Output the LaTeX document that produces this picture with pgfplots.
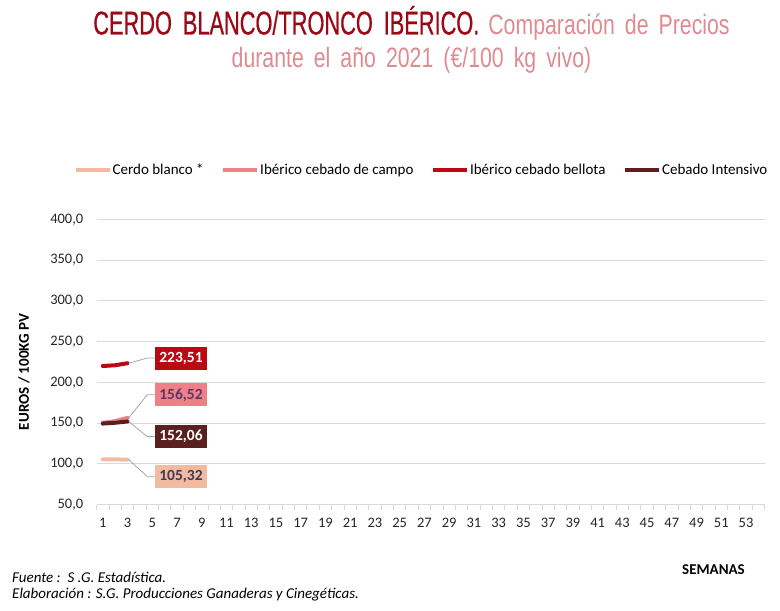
\documentclass[border=0pt]{standalone}
\usepackage{pgfplots}
\pgfplotsset{compat=1.18}
\usepackage{fontspec}
\setmainfont{Carlito}
\newfontfamily\titlefont[FakeStretch=0.66, WordSpace=1.8, FakeBold=0.6]{Liberation Sans}
\newfontfamily\subfont[FakeStretch=0.76, WordSpace=1.7]{Liberation Sans}
\definecolor{cblanco}{RGB}{242,186,160}
\definecolor{ccampo}{RGB}{240,128,135}
\definecolor{cbellota}{RGB}{185,10,20}
\definecolor{cinten}{RGB}{90,32,32}
\definecolor{gridc}{RGB}{217,217,217}
\definecolor{titc}{RGB}{155,8,22}
\definecolor{subc}{RGB}{224,138,146}
\definecolor{leader}{RGB}{166,166,166}
\definecolor{lblA}{RGB}{90,58,100}
\definecolor{lblB}{RGB}{62,60,92}
\begin{document}
\begin{tikzpicture}
\useasboundingbox (-96.6pt,-106.3pt) rectangle (683.4pt,504.7pt);
\begin{axis}[
  scale only axis, width=668pt, height=285.4pt,
  xmin=0.5, xmax=54.5, ymin=50, ymax=400,
  clip=false,
  axis lines*=left,
  x axis line style={-, draw=gridc, line width=1pt},
  y axis line style={draw=none},
  xtick={1,3,...,53},
  minor xtick={0.5,1.5,...,54.5},
  ytick={50,100,...,400},
  major tick length=0pt,
  minor tick length=5pt,
  tick align=outside,
  minor tick style={draw=gridc, line width=0.8pt},
  ymajorgrids,
  major grid style={draw=gridc, line width=1pt},
  tick label style={font=\fontsize{14.5}{17}\selectfont, text=black!85},
  x tick label style={yshift=-10pt, /pgf/number format/assume math mode=true},
  y tick label style={xshift=-9.8pt, /pgf/number format/.cd, fixed, fixed zerofill, precision=1, use comma, assume math mode=true},
  ylabel={EUROS / 100KG PV},
  ylabel style={font=\bfseries\fontsize{15}{18}\selectfont, at={(axis description cs:-0.1087,0.465)}, anchor=center},
  xlabel={SEMANAS},
  xlabel style={font=\bfseries\fontsize{15}{18}\selectfont, at={(axis description cs:0.9235,-0.2288)}, anchor=center},
  legend style={at={(axis description cs:-0.0346,1.1728)}, anchor=west, draw=none, fill=none,
    inner sep=0pt, font=\fontsize{15}{18}\selectfont,
    nodes={inner sep=1pt},
    /tikz/every even column/.append style={column sep=16.5pt}},
  legend columns=4,
  legend image code/.code={\draw[#1, line width=4pt, line cap=butt] (0pt,0pt) -- (34pt,0pt);},
  every axis plot/.append style={line width=4pt, line cap=round, line join=round},
]
\addplot[cblanco] coordinates {(1,105.6) (2,105.5) (3,105.32)};
\addlegendentry{Cerdo blanco *}
\addplot[ccampo] coordinates {(1,150.5) (2,152.5) (3,156.52)};
\addlegendentry{Ibérico cebado de campo}
\addplot[cbellota] coordinates {(1,220.1) (2,221.0) (3,223.51)};
\addlegendentry{Ibérico cebado bellota}
\addplot[cinten] coordinates {(1,149.5) (2,150.5) (3,152.06)};
\addlegendentry{Cebado Intensivo}

\draw[leader, line width=0.8pt] (axis cs:3.1,223.51) -- (axis cs:4.6,229.9) -- (axis cs:5.22,229.9);
\draw[leader, line width=0.8pt] (axis cs:3.1,156.52) -- (axis cs:4.6,184.8) -- (axis cs:5.22,184.8);
\draw[leader, line width=0.8pt] (axis cs:3.1,152.06) -- (axis cs:4.6,133.5) -- (axis cs:5.22,133.5);
\draw[leader, line width=0.8pt] (axis cs:3.1,105.32) -- (axis cs:4.6,84.4) -- (axis cs:5.22,84.4);

\node[fill=cbellota, text=white, font=\bfseries\fontsize{15.5}{18}\selectfont, minimum width=52pt, minimum height=23pt, inner sep=0pt] at (axis cs:7.32,229.9) {223,51};
\node[fill=ccampo, text=lblA, font=\bfseries\fontsize{15.5}{18}\selectfont, minimum width=52pt, minimum height=23pt, inner sep=0pt] at (axis cs:7.32,184.8) {156,52};
\node[fill=cinten, text=white, font=\bfseries\fontsize{15.5}{18}\selectfont, minimum width=52pt, minimum height=23pt, inner sep=0pt] at (axis cs:7.32,133.5) {152,06};
\node[fill=cblanco, text=lblB, font=\bfseries\fontsize{15.5}{18}\selectfont, minimum width=52pt, minimum height=23pt, inner sep=0pt] at (axis cs:7.32,84.4) {105,32};
\end{axis}
\node[anchor=base, inner sep=0pt] at (314.9pt,470.2pt) {{\titlefont\fontsize{33}{36}\selectfont\color{titc}CERDO BLANCO/TRONCO IBÉRICO.}\hspace{9pt}{\subfont\fontsize{28}{32}\selectfont\color{subc}Comparación de Precios}};
\node[anchor=base, inner sep=0pt] at (314.9pt,436.7pt) {\subfont\fontsize{28}{32}\selectfont\color{subc}durante el año 2021 (€/100 kg vivo)};
\node[anchor=west, inner sep=0pt, font=\itshape\fontsize{15}{18}\selectfont] at (-84.6pt,-72.3pt) {Fuente :\ \ S .G. Estadística.};
\node[anchor=west, inner sep=0pt, font=\itshape\fontsize{15}{18}\selectfont] at (-84.6pt,-90.3pt) {Elaboración : S.G. Producciones Ganaderas y Cinegéticas.};
\end{tikzpicture}
\end{document}
